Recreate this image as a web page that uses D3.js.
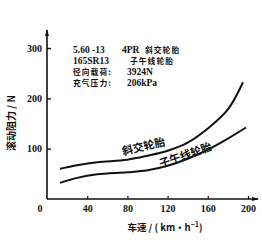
<!DOCTYPE html>
<html><head><meta charset="utf-8">
<script src="https://cdn.jsdelivr.net/npm/d3@7"></script>
<style>
html,body{margin:0;padding:0;background:#fff;}
svg{display:block;}
text{fill:#111;}
</style></head>
<body><svg id="c" width="262" height="240"></svg>
<script>
const speeds = [13, 30, 50, 80, 100, 120, 140, 160, 180, 195];
const biasValues = [60, 67, 73, 78, 86, 96, 112, 140, 178, 232];
const radialSpeeds = [13, 30, 50, 80, 100, 120, 140, 160, 180, 198];
const radialValues = [32, 42, 49, 53, 57, 66, 80, 98, 120, 142];
const xTicks = [40, 80, 120, 160, 200];
const yTicks = [100, 200, 300];
const infoLeft = ["5.60 -13", "165SR13", "径向载荷:", "充气压力:"];
const infoMid = ["4PR", "", "3924N", "206kPa"];
const infoRight = ["斜交轮胎", "子午线轮胎", "", ""];

const svg = d3.select("#c");
const x = d3.scaleLinear().domain([0, 200]).range([47, 248]);
const y = d3.scaleLinear().domain([0, 300]).range([199, 48]);
const serif = "'Liberation Serif','Noto Sans CJK SC',serif";
const cjk = "'Noto Sans CJK SC','Liberation Serif',serif";

// axes lines with arrows
const x0 = x(0), y0 = y(0);
const yTop = y(300) - 18, xRight = x(200) + 10;
svg.append("line").attr("x1", x0).attr("y1", y0).attr("x2", x0).attr("y2", yTop)
  .attr("stroke", "#111").attr("stroke-width", 1.6);
svg.append("line").attr("x1", x0).attr("y1", y0).attr("x2", xRight).attr("y2", y0)
  .attr("stroke", "#111").attr("stroke-width", 1.6);
svg.append("path").attr("d", `M${x0-2},${yTop+6}L${x0},${yTop-1}L${x0+2},${yTop+6}Z`).attr("fill", "#111");
svg.append("path").attr("d", `M${xRight-6},${y0-2}L${xRight+1},${y0}L${xRight-6},${y0+2}Z`).attr("fill", "#111");

// y axis ticks
const yAxis = d3.axisLeft(y).tickValues(yTicks).tickSizeInner(-4).tickSizeOuter(0).tickPadding(5);
const gy = svg.append("g").attr("transform", `translate(${x0},0)`).call(yAxis);
gy.select(".domain").remove();
gy.selectAll("line").attr("stroke", "#111").attr("stroke-width", 1.4);
gy.selectAll("text").attr("font-family", serif).attr("font-size", 10).attr("font-weight", "bold").attr("fill", "#111");

// x axis ticks
const xAxis = d3.axisBottom(x).tickValues(xTicks).tickSizeInner(-3).tickSizeOuter(0).tickPadding(6);
const gx = svg.append("g").attr("transform", `translate(0,${y0})`).call(xAxis);
gx.select(".domain").remove();
gx.selectAll("line").attr("stroke", "#111").attr("stroke-width", 1.2);
gx.selectAll("text").attr("font-family", serif).attr("font-size", 10).attr("font-weight", "bold").attr("fill", "#111");
svg.append("text").attr("x", x0 - 7).attr("y", y0 + 13).attr("text-anchor", "middle")
  .attr("font-family", serif).attr("font-size", 10).attr("font-weight", "bold").text("0");

// axis titles
const xt = svg.append("text").attr("x", 165).attr("y", 231).attr("text-anchor", "middle")
  .attr("font-family", cjk).attr("font-size", 9.5).attr("font-weight", "bold");
xt.append("tspan").text("车速 / ( km·h");
xt.append("tspan").attr("dy", -4).attr("font-size", 7).text("−1");
xt.append("tspan").attr("dy", 4).text(")");

svg.append("text").attr("transform", "translate(15,123) rotate(-90)").attr("text-anchor", "middle")
  .attr("font-family", cjk).attr("font-size", 10).attr("font-weight", "bold").text("滚动阻力 / N");

// curves
const line = d3.line().curve(d3.curveCatmullRom.alpha(0.5));
svg.append("path").attr("d", line(speeds.map((s, i) => [x(s), y(biasValues[i])])))
  .attr("fill", "none").attr("stroke", "#111").attr("stroke-width", 2);
svg.append("path").attr("d", line(radialSpeeds.map((s, i) => [x(s), y(radialValues[i])])))
  .attr("fill", "none").attr("stroke", "#111").attr("stroke-width", 2);

// curve labels
svg.append("text").attr("transform", `translate(${x(97)},${y(97)}) rotate(-13)`).attr("text-anchor", "middle")
  .attr("font-family", cjk).attr("font-size", 11).attr("font-weight", "bold").text("斜交轮胎");
svg.append("text").attr("transform", `translate(${x(139)},${y(80)}) rotate(-19)`).attr("text-anchor", "middle")
  .attr("font-family", cjk).attr("font-size", 11).attr("font-weight", "bold").text("子午线轮胎");

// info text
const info = svg.append("g").attr("font-weight", "bold");
const isCjk = s => /[\u4e00-\u9fff]/.test(s);
infoLeft.forEach((t, i) => {
  const yy = 52.5 + i * 11.3;
  info.append("text").attr("x", 73).attr("y", yy).attr("font-family", isCjk(t) ? cjk : serif)
    .attr("font-size", isCjk(t) ? 7.8 : 9.5).attr("letter-spacing", isCjk(t) ? 1 : 0).text(t);
  if (infoMid[i]) info.append("text").attr("x", i === 0 ? 122 : 127).attr("y", yy)
    .attr("font-family", serif).attr("font-size", 9.5).text(infoMid[i]);
  if (infoRight[i]) info.append("text").attr("x", i === 0 ? 145 : 130).attr("y", yy)
    .attr("font-family", cjk).attr("font-size", 7.8).attr("letter-spacing", 1).text(infoRight[i]);
});
</script></body></html>
